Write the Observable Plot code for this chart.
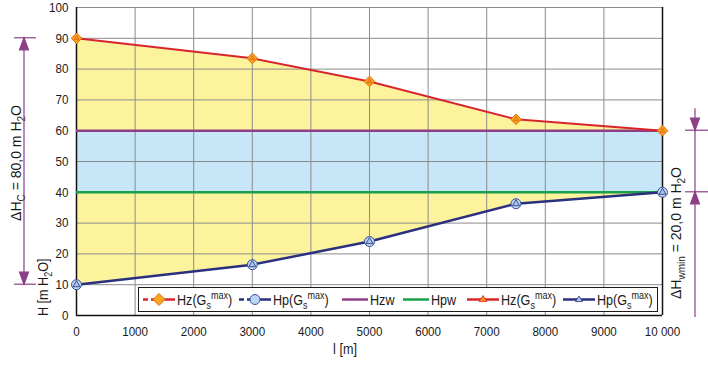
<!DOCTYPE html>
<html>
<head>
<meta charset="utf-8">
<script src="https://cdn.jsdelivr.net/npm/d3@7"></script>
<script src="https://cdn.jsdelivr.net/npm/@observablehq/plot@0.6"></script>
<style>
  body { margin: 0; background: #fff; }
  #chart { position: relative; width: 708px; height: 365px; font-family: 'Liberation Sans', Arial, sans-serif; color: #1a1a1a; }
  #chart svg { display: block; }
  .legend { position: absolute; left: 138px; top: 287px; width: 518px; height: 23px; border: 1.5px solid #1a1a1a; background: #fff; }
  .item { position: absolute; top: 0; height: 23px; display: flex; align-items: center; font-size: 14px; white-space: nowrap; }
  .item svg { margin-right: 2px; flex: none; }
  .item span { display: inline-block; transform: scaleX(0.9); transform-origin: left center; }
  .item sub, .item sup { font-size: 10px; line-height: 0; }
</style>
</head>
<body>
<div id="chart"></div>
<script>
// Pipeline length l [m] and pressure heads H [m H2O]
const distance = [0, 3000, 5000, 7500, 10000];
const hz = [90, 83.5, 76, 63.7, 60];     // Hz(Gs max) – upper envelope
const hp = [10, 16.5, 24, 36.3, 40];     // Hp(Gs max) – lower envelope
const hzw = 60;                          // Hzw
const hpw = 40;                          // Hpw

const xTicks = [0, 1000, 2000, 3000, 4000, 5000, 6000, 7000, 8000, 9000, 10000];
const xTickLabels = ["0", "1000", "2000", "3000", "4000", "5000", "6000", "7000", "8000", "9000", "10 000"];
const yTicks = [0, 10, 20, 30, 40, 50, 60, 70, 80, 90, 100];

const FONT = "'Liberation Sans', Arial, sans-serif";
const TICK_NARROW = 0.86;  // condensing of tick labels
const TITLE_NARROW = 0.9;  // condensing of axis titles
const C = {
  fill: "#fdf39c", band: "#c7e6f7", grid: "#8c8c8c",
  hz: "#d8252c", hzMark: "#f9a61a", hp: "#2a2f7e", hpMark: "#b9d7f2",
  hzw: "#8e3f88", hpw: "#18a04a", annot: "#8c3f86"
};

const rows = distance.map((l, i) => ({ l, hz: hz[i], hp: hp[i] }));
const band = [{ x1: distance[0], x2: distance[distance.length - 1], y1: hpw, y2: hzw }];
const fmt = v => v.toFixed(1).replace(".", ",");

const plot = Plot.plot({
  width: 708, height: 365,
  marginLeft: 76, marginRight: 46, marginTop: 7, marginBottom: 50,
  style: { fontFamily: FONT, fontSize: "13.5px", color: "#1a1a1a", background: "transparent" },
  x: { domain: [0, 10000] },
  y: { domain: [0, 100] },
  marks: [
    Plot.areaY(rows, { x: "l", y1: "hp", y2: "hz", fill: C.fill }),
    Plot.rect(band, { x1: "x1", x2: "x2", y1: "y1", y2: "y2", fill: C.band }),
    Plot.gridX({ ticks: xTicks, stroke: C.grid, strokeOpacity: 1 }),
    Plot.gridY({ ticks: yTicks, stroke: C.grid, strokeOpacity: 1 }),
    Plot.ruleX([0, 10000], { stroke: "#111", strokeWidth: 1.5 }),
    Plot.ruleY([0], { stroke: "#111", strokeWidth: 1.5 }),
    Plot.ruleY([hzw], { stroke: C.hzw, strokeWidth: 2.5 }),
    Plot.ruleY([hpw], { stroke: C.hpw, strokeWidth: 2.5 }),
    Plot.line(rows, { x: "l", y: "hz", stroke: C.hz, strokeWidth: 2 }),
    Plot.line(rows, { x: "l", y: "hp", stroke: C.hp, strokeWidth: 2.5 }),
    Plot.dot(rows, { x: "l", y: "hz", symbol: "diamond2", r: 4.8, fill: C.hzMark, stroke: "#e06a1a", strokeWidth: 1 }),
    Plot.dot(rows, { x: "l", y: "hz", symbol: "triangle", r: 1.8, fill: "#f7941d", stroke: "#e0501a", strokeWidth: 0.6 }),
    Plot.dot(rows, { x: "l", y: "hp", symbol: "circle", r: 5, fill: C.hpMark, stroke: "#3c4f9e", strokeWidth: 1 }),
    Plot.dot(rows, { x: "l", y: "hp", symbol: "triangle", r: 2.6, fill: "#a9c6ea", stroke: C.hp, strokeWidth: 0.8 }),
    Plot.axisX({ ticks: xTicks, tickSize: 0, tickPadding: 11, label: null,
      tickFormat: d => xTickLabels[xTicks.indexOf(d)] }),
    Plot.axisY({ ticks: yTicks, tickSize: 0, tickPadding: 8, label: null })
  ]
});

const host = document.getElementById("chart");
host.appendChild(plot);

// Condense the axis tick labels without moving their anchors
plot.querySelectorAll("text").forEach(t => {
  const w = t.getComputedTextLength();
  if (w > 0) {
    t.setAttribute("textLength", (w * TICK_NARROW).toFixed(2));
    t.setAttribute("lengthAdjust", "spacingAndGlyphs");
  }
});

// Annotations: axis titles and head-difference arrows
const y = v => plot.scale("y").apply(v);
const svg = d3.select(plot);
const g = svg.append("g").attr("font-family", FONT).attr("font-size", 14).attr("fill", "#1a1a1a");
const sc = `scale(${TITLE_NARROW},1)`;

g.append("text").attr("transform", `translate(345,354) ${sc}`).attr("text-anchor", "middle").text("l [m]");

const yl = g.append("text").attr("transform", `translate(48,316) rotate(-90) ${sc}`).attr("text-anchor", "start");
yl.append("tspan").text("H [m H");
yl.append("tspan").attr("font-size", 10).attr("dy", 4).text("2");
yl.append("tspan").attr("dy", -4).text("O]");

function arrowHead(gx, x, tipY, dir) {
  // dir = -1 points up, +1 points down
  gx.append("path")
    .attr("d", `M${x},${tipY} L${x - 4.5},${tipY - dir * 12} L${x + 4.5},${tipY - dir * 12} Z`)
    .attr("fill", C.annot);
}

// Left: ΔHC between start heads
const a = svg.append("g").attr("stroke", C.annot).attr("stroke-width", 1.2);
const lx = 24;
a.append("line").attr("x1", lx).attr("x2", lx).attr("y1", y(hz[0])).attr("y2", y(hp[0]));
a.append("line").attr("x1", 14).attr("x2", 36).attr("y1", y(hz[0])).attr("y2", y(hz[0]));
a.append("line").attr("x1", 14).attr("x2", 36).attr("y1", y(hp[0])).attr("y2", y(hp[0]));
arrowHead(a, lx, y(hz[0]), -1);
arrowHead(a, lx, y(hp[0]), 1);

const t1 = g.append("text").attr("transform", `translate(21,${(y(hz[0]) + y(hp[0])) / 2 + 2}) rotate(-90)`).attr("text-anchor", "middle");
t1.append("tspan").text("ΔH");
t1.append("tspan").attr("font-size", 10).attr("dy", 4).text("C");
t1.append("tspan").attr("dy", -4).text(` = ${fmt(hz[0] - hp[0])} m H`);
t1.append("tspan").attr("font-size", 10).attr("dy", 4).text("2");
t1.append("tspan").attr("dy", -4).text("O");

// Right: ΔHwmin between Hzw and Hpw
const rx = 695;
a.append("line").attr("x1", rx).attr("x2", rx).attr("y1", y(hzw) - 22).attr("y2", y(0) + 2);
a.append("line").attr("x1", 685).attr("x2", 708).attr("y1", y(hzw)).attr("y2", y(hzw));
a.append("line").attr("x1", 685).attr("x2", 708).attr("y1", y(hpw)).attr("y2", y(hpw));
arrowHead(a, rx, y(hzw), 1);
arrowHead(a, rx, y(hpw), -1);

const t2 = g.append("text").attr("transform", `translate(681,233) rotate(-90)`).attr("text-anchor", "middle");
t2.append("tspan").text("ΔH");
t2.append("tspan").attr("font-size", 10).attr("dy", 4).text("wmin");
t2.append("tspan").attr("dy", -4).text(` = ${fmt(hzw - hpw)} m H`);
t2.append("tspan").attr("font-size", 10).attr("dy", 4).text("2");
t2.append("tspan").attr("dy", -4).text("O");

// Legend
const gs = 'G<sub>s</sub><sup>max</sup>';
const legendItems = [
  { left: 4,   stroke: C.hz,  marker: "diamond", label: `Hz(${gs})` },
  { left: 100, stroke: C.hp,  marker: "circle",  label: `Hp(${gs})` },
  { left: 203, stroke: C.hzw, marker: null,      label: "Hzw" },
  { left: 264, stroke: C.hpw, marker: null,      label: "Hpw" },
  { left: 328, stroke: C.hz,  marker: "tri-hz",  label: `Hz(${gs})` },
  { left: 424, stroke: C.hp,  marker: "tri-hp",  label: `Hp(${gs})` }
];
const legend = document.createElement("div");
legend.className = "legend";
legendItems.forEach(it => {
  let m = "";
  if (it.marker === "diamond") m = `<path d="M16,5.5 L22,11.5 L16,17.5 L10,11.5 Z" fill="${C.hzMark}" stroke="#e06a1a"/>`;
  if (it.marker === "circle") m = `<circle cx="16" cy="11.5" r="5" fill="${C.hpMark}" stroke="#3c4f9e"/>`;
  if (it.marker === "tri-hz") m = `<path d="M16,7.5 L20,13.5 L12,13.5 Z" fill="#f7941d" stroke="${C.hz}" stroke-width="0.8"/>`;
  if (it.marker === "tri-hp") m = `<path d="M16,8 L19.5,13.5 L12.5,13.5 Z" fill="#a9c6ea" stroke="${C.hp}" stroke-width="0.8"/>`;
  const w = it.marker ? 32 : 26;
  const line = it.marker === "diamond" || it.marker === "circle"
    ? `<line x1="0" x2="5" y1="11.5" y2="11.5" stroke="${it.stroke}" stroke-width="2.5"/><line x1="8" x2="${w}" y1="11.5" y2="11.5" stroke="${it.stroke}" stroke-width="2.5"/>`
    : `<line x1="0" x2="${w}" y1="11.5" y2="11.5" stroke="${it.stroke}" stroke-width="2.5"/>`;
  const el = document.createElement("div");
  el.className = "item";
  el.style.left = it.left + "px";
  el.innerHTML = `<svg width="${w}" height="23">${line}${m}</svg><span>${it.label}</span>`;
  legend.appendChild(el);
});
host.appendChild(legend);
</script>
</body>
</html>
